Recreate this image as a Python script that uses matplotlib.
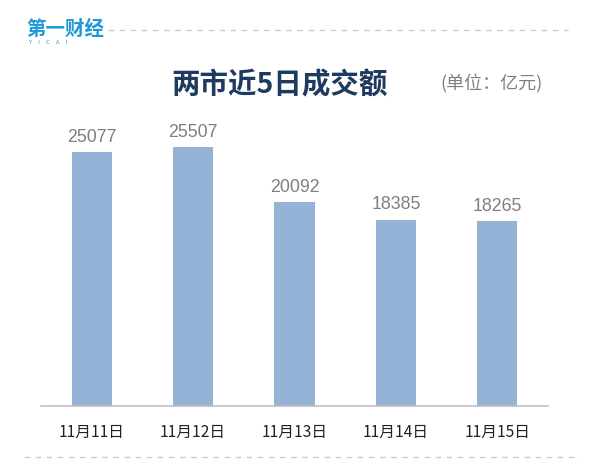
import matplotlib
matplotlib.use("Agg")
import matplotlib.pyplot as plt

plt.rcParams['font.family'] = ['Noto Sans CJK SC', 'DejaVu Sans']

# ---- data ----
dates = ["11月11日", "11月12日", "11月13日", "11月14日", "11月15日"]
volume = [25077, 25507, 20092, 18385, 18265]

title = "两市近5日成交额"
unit = "(单位：亿元)"

fig = plt.figure(figsize=(6, 4.75), dpi=100)
ax = fig.add_axes([41/600, 69/475, 507/600, 304.2/475])

x = range(len(dates))
ax.bar(x, volume, width=0.395, color="#95b3d7")
for i, v in enumerate(volume):
    ax.text(i, v + 600, str(v), ha="center", va="bottom",
            fontsize=12.8, color="#7f7f7f", family=['Liberation Sans', 'Noto Sans CJK SC'])

ax.set_xlim(-0.5, len(dates) - 0.5)
ax.set_ylim(0, 30000)
ax.set_xticks(list(x))
ax.set_xticklabels(dates, fontsize=11.3, color="#222222")
ax.tick_params(axis="x", length=0, pad=13)
ax.set_yticks([])
for s in ["top", "left", "right"]:
    ax.spines[s].set_visible(False)
ax.spines["bottom"].set_color("#bfbfbf")
ax.spines["bottom"].set_linewidth(1.2)

# title + unit
fig.text(280/600, 1 - 85/475, title, ha="center", va="center",
         fontsize=20.5, fontweight="bold", color="#1f3a5f")
fig.text(491/600, 1 - 83/475, unit, ha="center", va="center",
         fontsize=13, color="#7f7f7f")

# logo
fig.text(26/600, 1 - 29/475, "第一财经", ha="left", va="center",
         fontsize=14, fontweight="bold", color="#1c9ad6")
fig.text(29/600, 1 - 42/475, "Y     I     C     A     I", ha="left", va="center",
         fontsize=4, color="#1c9ad6")

# dashed separators
fig.add_artist(plt.Line2D([108/600, 568/600], [1 - 30/475, 1 - 30/475],
                          color="#cccccc", lw=1, ls=(0, (4, 4))))
fig.add_artist(plt.Line2D([24/600, 580/600], [1 - 457/475, 1 - 457/475],
                          color="#cccccc", lw=1, ls=(0, (4, 4))))

fig.savefig("out.png", dpi=100)
